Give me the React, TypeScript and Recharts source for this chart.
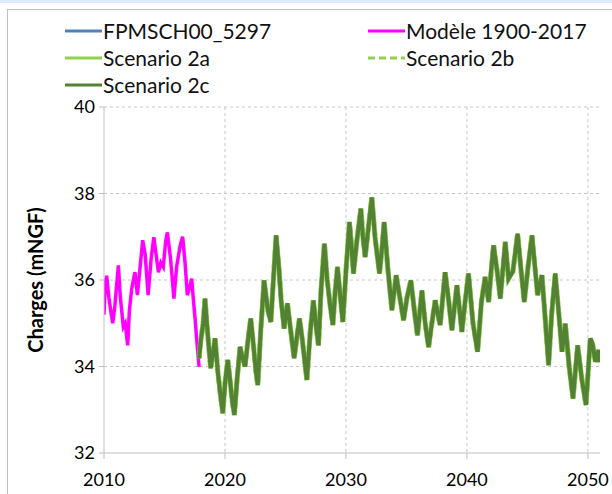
import { CartesianGrid, Line, LineChart, XAxis, YAxis } from 'recharts';

// Modèle 1900-2017 (only the part inside the plotted window)
const modelYears = [
  2010.0, 2010.1, 2010.22, 2010.4, 2010.55, 2010.72, 2010.9, 2011.05, 2011.19, 2011.35,
  2011.6, 2011.75, 2011.96, 2012.1, 2012.29, 2012.56, 2012.76, 2012.95, 2013.2, 2013.4,
  2013.65, 2013.9, 2014.12, 2014.3, 2014.5, 2014.7, 2014.9, 2015.1, 2015.24, 2015.5,
  2015.78, 2016.0, 2016.3, 2016.5, 2016.7, 2016.89, 2017.05, 2017.25, 2017.4, 2017.53,
  2017.7, 2017.86
];
const modelCharges = [
  35.2, 35.9, 36.1, 35.6, 35.3, 35.0, 35.4, 35.9, 36.34, 35.6,
  34.92, 35.0, 34.49, 35.3, 35.8, 36.18, 35.65, 36.2, 36.92, 36.6,
  35.65, 36.5, 36.99, 36.6, 36.18, 36.4, 36.3, 36.9, 37.1, 36.5,
  35.57, 36.3, 36.8, 37.0, 36.4, 35.65, 35.8, 36.03, 35.5, 35.11,
  34.5, 33.99
];

// Scenario 2a / 2b / 2c coincide over this period
const scenarioYears = [
  2017.86, 2018.0, 2018.2, 2018.35, 2018.5, 2018.65, 2018.82, 2019.0, 2019.18, 2019.4,
  2019.6, 2019.82, 2020.0, 2020.23, 2020.45, 2020.6, 2020.78, 2021.0, 2021.25, 2021.45,
  2021.66, 2021.9, 2022.13, 2022.35, 2022.55, 2022.71, 2022.95, 2023.23, 2023.32, 2023.55,
  2023.79, 2024.0, 2024.23, 2024.45, 2024.65, 2024.89, 2025.16, 2025.4, 2025.72, 2025.95,
  2026.16, 2026.4, 2026.6, 2026.77, 2027.05, 2027.31, 2027.5, 2027.73, 2027.95, 2028.22,
  2028.45, 2028.7, 2028.92, 2029.1, 2029.3, 2029.5, 2029.74, 2030.0, 2030.29, 2030.45,
  2030.62, 2030.9, 2031.23, 2031.4, 2031.59, 2031.85, 2032.14, 2032.4, 2032.77, 2033.0,
  2033.16, 2033.45, 2033.8, 2034.15, 2034.45, 2034.76, 2035.05, 2035.37, 2035.65, 2035.91,
  2036.28, 2036.55, 2036.83, 2037.1, 2037.38, 2037.6, 2037.79, 2038.2, 2038.5, 2038.76,
  2039.17, 2039.4, 2039.58, 2039.85, 2040.13, 2040.5, 2040.88, 2041.2, 2041.51, 2041.79,
  2042.0, 2042.2, 2042.5, 2042.76, 2043.17, 2043.44, 2043.8, 2044.19, 2044.45, 2044.74,
  2045.05, 2045.38, 2045.84, 2046.2, 2046.5, 2046.75, 2047.0, 2047.3, 2047.6, 2047.86,
  2048.13, 2048.45, 2048.77, 2049.15, 2049.5, 2049.84, 2050.2, 2050.4, 2050.61, 2050.88,
  2050.95
];
const scenarioCharges = [
  34.19, 34.6, 35.0, 35.57, 35.0, 34.5, 33.96, 34.3, 34.65, 33.9,
  33.4, 32.92, 33.6, 34.15, 33.6, 33.2, 32.88, 33.7, 34.45, 34.2,
  34.0, 34.6, 35.11, 34.5, 33.9, 33.57, 34.8, 35.99, 35.8, 35.3,
  35.03, 36.0, 37.03, 36.3, 35.5, 34.88, 35.46, 34.9, 34.19, 34.7,
  35.11, 34.6, 34.1, 33.69, 34.8, 35.53, 35.0, 34.49, 35.8, 36.84,
  36.0, 35.4, 34.96, 35.7, 36.3, 35.7, 35.03, 36.2, 37.34, 36.8,
  36.15, 36.9, 37.65, 37.0, 36.53, 37.2, 37.91, 37.0, 36.15, 36.8,
  37.34, 36.3, 35.3, 36.11, 35.6, 35.07, 35.6, 35.99, 35.3, 34.72,
  35.76, 35.0, 34.45, 35.0, 35.53, 35.2, 34.96, 36.18, 35.5, 34.84,
  35.88, 35.3, 34.8, 35.5, 36.15, 35.0, 34.34, 35.5, 36.07, 35.49,
  36.2, 36.8, 36.2, 35.57, 36.88, 36.03, 36.2, 37.07, 36.3, 35.49,
  36.3, 37.03, 35.65, 36.11, 35.0, 34.03, 35.2, 36.15, 35.2, 34.34,
  34.99, 34.0, 33.26, 34.49, 33.7, 33.11, 34.65, 34.5, 34.11, 34.38,
  34.1
];

const xTicks = [2010, 2020, 2030, 2040, 2050];
const yTicks = [32, 34, 36, 38, 40];

const legendItems = [
  { label: 'FPMSCH00_5297', color: '#4f81bd', dashed: false },
  { label: 'Modèle 1900-2017', color: '#ff00ff', dashed: false },
  { label: 'Scenario 2a', color: '#92d050', dashed: false },
  { label: 'Scenario 2b', color: '#92d050', dashed: true },
  { label: 'Scenario 2c', color: '#548235', dashed: false }
];

const toPoints = (years: number[], values: number[]) =>
  years.map((year, i) => ({ year, charge: values[i] }));

const modelData = toPoints(modelYears, modelCharges);
const scenarioData = toPoints(scenarioYears, scenarioCharges);

const FONT = 'Lato, "Open Sans", sans-serif';
const tickStyle = { fill: '#000', fontSize: 18, fontFamily: FONT };

function ChartLegend() {
  return (
    <div style={{ position: 'absolute', left: 65, top: 17, width: 540, fontFamily: FONT, fontSize: 21 }}>
      {legendItems.map((item, i) => (
        <div
          key={item.label}
          style={{
            position: 'absolute',
            left: i % 2 === 0 ? 0 : 303,
            top: Math.floor(i / 2) * 27,
            display: 'flex',
            alignItems: 'center',
            height: 27,
            whiteSpace: 'nowrap',
            color: '#111'
          }}
        >
          <svg width={37} height={6} style={{ marginRight: 1 }}>
            <line
              x1={0}
              y1={3}
              x2={37}
              y2={3}
              stroke={item.color}
              strokeWidth={3}
              strokeDasharray={item.dashed ? '7 4' : undefined}
            />
          </svg>
          <span>{item.label}</span>
        </div>
      ))}
    </div>
  );
}

export default function App() {
  return (
    <div style={{ position: 'absolute', left: 0, top: 0, width: 612, height: 494, background: '#fff' }}>
      <div style={{ position: 'absolute', left: 0, top: 0, width: 612, height: 3, background: '#dce9f6' }} />
      <div
        style={{
          position: 'absolute',
          left: 7,
          top: 9,
          width: 605,
          height: 485,
          borderLeft: '1px solid #bfbfbf',
          borderTop: '1px solid #bfbfbf'
        }}
      />
      <ChartLegend />
      <div style={{ position: 'absolute', left: 0, top: 0 }}>
        <LineChart width={612} height={494} margin={{ top: 107, right: 12, bottom: 11, left: 44 }}>
          <CartesianGrid
            stroke="#c6c6c6"
            strokeDasharray="3 3"
            horizontalValues={[34, 36, 38, 40]}
            verticalValues={[2020, 2030, 2040, 2050]}
          />
          <XAxis
            dataKey="year"
            type="number"
            domain={[2010, 2051]}
            ticks={xTicks}
            allowDataOverflow
            height={30}
            stroke="#bfbfbf"
            tickSize={6}
            tickMargin={14}
            tick={tickStyle}
          />
          <YAxis
            type="number"
            domain={[32, 40]}
            ticks={yTicks}
            width={60}
            stroke="#bfbfbf"
            tickSize={5}
            tickMargin={4}
            tick={tickStyle}
            label={{
              content: () => (
                <text
                  x={35}
                  y={280}
                  transform="rotate(-90 35 280)"
                  textAnchor="middle"
                  dominantBaseline="central"
                  fontFamily={FONT}
                  fontSize={20}
                  fontWeight="bold"
                  fill="#000"
                >
                  Charges (mNGF)
                </text>
              )
            }}
          />
          <Line
            data={modelData}
            dataKey="charge"
            name="Modèle 1900-2017"
            stroke="#ff00ff"
            strokeWidth={3.5}
            dot={false}
            isAnimationActive={false}
          />
          <Line
            data={scenarioData}
            dataKey="charge"
            name="Scenario 2a"
            stroke="#92d050"
            strokeWidth={5}
            dot={false}
            isAnimationActive={false}
          />
          <Line
            data={scenarioData}
            dataKey="charge"
            name="Scenario 2b"
            stroke="#92d050"
            strokeWidth={5}
            strokeDasharray="7 4"
            dot={false}
            isAnimationActive={false}
          />
          <Line
            data={scenarioData}
            dataKey="charge"
            name="Scenario 2c"
            stroke="#548235"
            strokeWidth={4}
            dot={false}
            isAnimationActive={false}
          />
        </LineChart>
      </div>
    </div>
  );
}
